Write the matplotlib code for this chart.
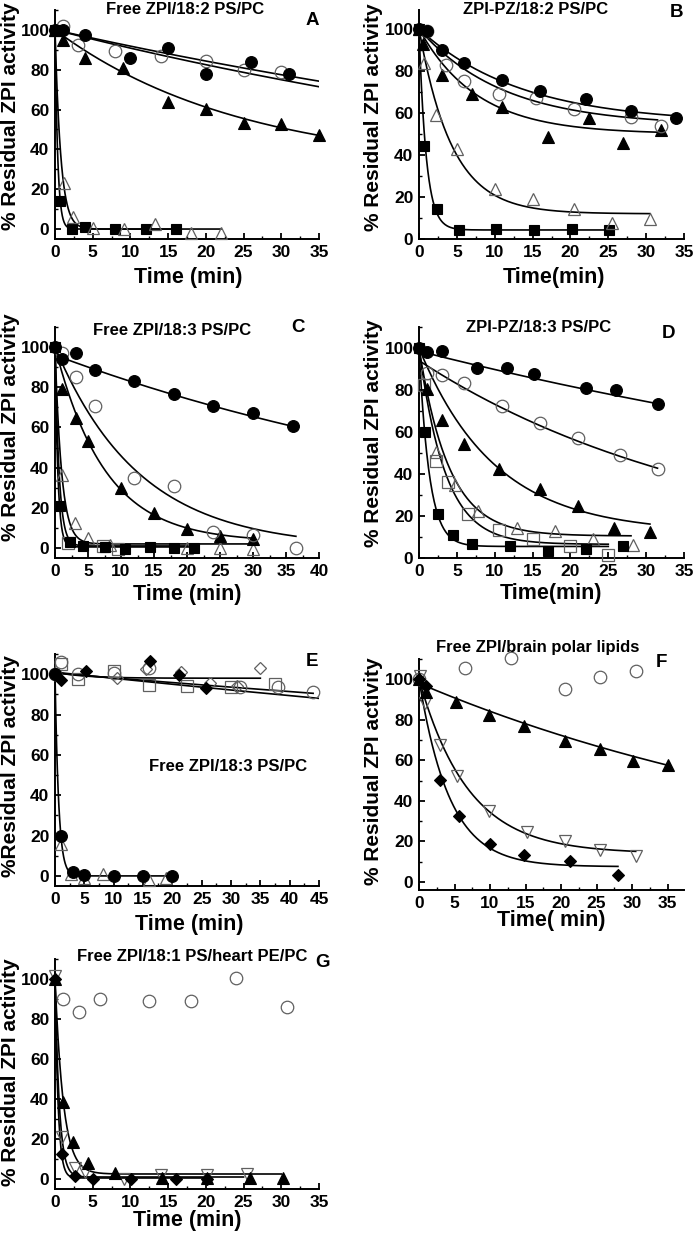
import numpy as np
import matplotlib
matplotlib.use("Agg")
import matplotlib.pyplot as plt
from matplotlib.ticker import MultipleLocator

plt.rcParams['font.family'] = ['Liberation Sans', 'DejaVu Sans']
plt.rcParams['font.weight'] = 'bold'
plt.rcParams['axes.labelweight'] = 'bold'

W, H = 693, 1240

# ---------------- data (time in min, % residual activity) ----------------
# Panel A  Free ZPI/18:2 PS/PC
A_fc_t = [0, 1, 4, 10, 15, 20, 26, 31]
A_fc_y = [100, 100, 97.5, 86, 91, 78, 84, 78]
A_oc_t = [1, 3, 8, 14, 20, 25, 30]
A_oc_y = [102, 92.5, 89.5, 87, 84.5, 80, 79]
A_ft_t = [0, 1, 4, 9, 15, 20, 25, 30, 35]
A_ft_y = [100, 95, 86, 81, 64, 60.5, 53.5, 53, 47]
A_ot_t = [0, 1.2, 2.4, 5, 9.2, 13.2, 18, 22]
A_ot_y = [100, 23, 6, 0.5, 0, 2.5, -2, -2]
A_fs_t = [0, 0.7, 2.3, 4, 8, 12, 16]
A_fs_y = [100, 14, 0, 1.2, 0, 0, 0]

# Panel B  ZPI-PZ/18:2 PS/PC
B_fc_t = [0, 1, 3, 6, 11, 16, 22, 28, 34]
B_fc_y = [100, 99, 90, 84, 75.5, 70.5, 66.5, 61, 57.5]
B_oc_t = [1, 3.5, 6, 10.5, 15.5, 20.5, 28, 32]
B_oc_y = [99, 83, 75, 69, 67, 62, 58, 54]
B_ft_t = [0, 0.5, 3, 7, 11, 17, 22.5, 27, 32]
B_ft_y = [100, 93, 78, 69, 63, 48.5, 57.5, 45.5, 52]
B_ot_t = [0, 0.7, 2.2, 5, 10, 15, 20.5, 25.5, 30.5]
B_ot_y = [100, 84, 59, 43, 24, 19, 14.5, 7.5, 9.5]
B_fs_t = [0, 0.7, 2.4, 5.3, 10.2, 15.2, 20.2, 25.1]
B_fs_y = [100, 44.5, 14.5, 4.3, 4.6, 4.3, 4.6, 4.3]

# Panel C  Free ZPI/18:3 PS/PC
C_fc_t = [0, 1, 3.2, 6, 12, 18, 24, 30, 36]
C_fc_y = [100, 94, 97, 88.5, 83, 76.5, 70.5, 67, 60.5]
C_oc_t = [1, 3.2, 6, 12, 18, 24, 30, 36.5]
C_oc_y = [97, 85, 70.5, 35, 31, 8, 6.5, 0]
C_ft_t = [1, 3.2, 5, 10, 15, 20, 25, 30]
C_ft_y = [79, 64.5, 53, 30, 17.5, 9.5, 6, 4.5]
C_ot_t = [1, 3, 5, 8.3, 20, 25, 30]
C_ot_y = [36.5, 12.5, 5, 1.7, 0, 0, -0.5]
C_os_t = [2, 7.2, 9.6]
C_os_y = [2.5, 1, -0.5]
C_fs_t = [0, 0.7, 2.3, 4.3, 7.5, 10.6, 14.4, 18, 21]
C_fs_y = [100, 20.7, 2.8, 0.8, 0.5, -0.3, 0.5, 0, 0]

# Panel D  ZPI-PZ/18:3 PS/PC
D_fc_t = [0, 1, 3, 7.6, 11.6, 15.2, 22, 26, 31.5]
D_fc_y = [100, 98, 98.5, 90.5, 90.5, 87.5, 81, 80, 73.5]
D_oc_t = [1, 3, 6, 11, 16, 21, 26.5, 31.5]
D_oc_y = [88, 87, 83.5, 72.5, 64.5, 57, 49, 42.5]
D_ft_t = [1, 3, 6, 10.6, 16, 21, 25.7, 30.5]
D_ft_y = [80.5, 65.5, 54.5, 42.5, 33, 25, 14.5, 12.5]
D_ot_t = [2.2, 4.8, 7.8, 13, 18, 23, 28.2]
D_ot_y = [50.5, 35, 22.5, 14.5, 13, 9, 6]
D_os_t = [0.7, 2.2, 3.8, 6.5, 10.5, 15, 20, 25]
D_os_y = [82.5, 46, 36, 21, 13.5, 9, 5.5, 1.5]
D_fs_t = [0, 0.8, 2.5, 4.5, 7, 12, 17, 22, 27]
D_fs_y = [100, 60, 21, 11, 6.5, 5.5, 3.5, 4.5, 5.5]

# Panel E  Free ZPI/18:3 PS/PC
E_oc_t = [0, 1, 4, 10, 16, 31.5, 38, 44]
E_oc_y = [100, 106, 100, 100.5, 103, 93.5, 93.5, 91]
E_os_t = [1, 4, 10, 16, 22.5, 30, 37.5]
E_os_y = [105, 97.5, 101.5, 94.5, 94, 93.5, 95]
E_od_t = [10.5, 15.5, 21.5, 26.5, 31, 35]
E_od_y = [98, 102.5, 101, 95.5, 94, 103]
E_fd_t = [0, 1, 5.3, 16.2, 21.2, 25.8]
E_fd_y = [100, 97, 101.5, 106.5, 99.5, 93]
E_fc_t = [0, 1, 3, 5, 10, 15, 20]
E_fc_y = [100, 20, 2, 0.5, 0, 0, 0]
E_ot_t = [1, 2.8, 5, 8.2, 16, 19]
E_ot_y = [16, 1, -1.2, 1, -2, -1.2]

# Panel F  Free ZPI/brain polar lipids
F_oc_t = [0, 6.5, 13, 20.6, 25.5, 30.5]
F_oc_y = [100, 105.5, 110.5, 95, 101, 104]
F_ft_t = [0, 1, 5.2, 9.8, 14.8, 20.6, 25.5, 30.1, 35.1]
F_ft_y = [100, 93.5, 89, 82.5, 77, 69.5, 65.5, 59.5, 57.5]
F_oit_t = [0.2, 0.9, 3, 5.3, 9.8, 15.2, 20.6, 25.5, 30.5]
F_oit_y = [101.5, 88.5, 67.5, 52.5, 35, 24.5, 20, 15.5, 13]
F_fd_t = [0, 1, 3, 5.6, 10, 14.8, 21.2, 28]
F_fd_y = [100, 96.5, 50.5, 32.5, 18.5, 13.5, 10.5, 3.5]

# Panel G  Free ZPI/18:1 PS/heart PE/PC
G_oc_t = [1, 3.2, 6, 12.4, 18, 24, 30.8]
G_oc_y = [90, 83.5, 90, 89, 89, 100.5, 86]
G_ft_t = [0, 1, 2.4, 4.4, 8, 14.2, 20.1, 25.9, 30.2]
G_ft_y = [100, 38.5, 18.5, 8, 3, 0.5, 0.5, 0.5, 0.5]
G_oit_t = [0, 0.9, 2.6, 4, 9.1, 14.1, 20.1, 25.4]
G_oit_y = [101.5, 21, 5.5, 3.5, 0, 2, 2, 2.5]
G_fd_t = [0, 0.9, 2.6, 5, 10.1, 16.1, 20.1]
G_fd_y = [100, 12.5, 1.5, 0, 0, 0, 0]

# fitted single-exponential curves:
# (start value, plateau, rate constant 1/min, last time)
A_fits = [(100, 0, 0.0085, 35), (100, 0, 0.0096, 35), (100, 30, 0.0404, 35),
          (100, 0, 1.3, 22), (100, 0, 2.8, 16)]
B_fits = [(100, 55, 0.074, 34), (100, 54, 0.09, 31.5), (100, 50, 0.13, 32),
          (100, 12, 0.23, 30.5), (100, 4.3, 1.05, 25)]
C_fits = [(96, 0, 0.0128, 36), (100, 0, 0.078, 36.5), (100, 3, 0.132, 30),
          (100, 2, 1.0, 30), (100, 1, 1.6, 21), (100, 0.5, 2.3, 21)]
D_fits = [(98.5, 0, 0.0093, 31.5), (94, 0, 0.025, 31.5), (100, 12, 0.1, 30.5),
          (100, 10.5, 0.253, 28), (100, 6.5, 0.29, 25), (100, 5.5, 0.74, 25)]
E_fits = [(101, 98, 0.2, 35), (101, 0, 0.00306, 45), (100.5, 0, 0.00238, 44),
          (100, 0, 1.6, 20)]
F_fits = [(98, 0, 0.0152, 35), (100, 14, 0.144, 30.5), (100, 7.5, 0.232, 28)]
G_fits = [(100, 2.5, 0.9, 30), (100, 1, 1.75, 25), (100, 0.5, 2.4, 20)]

# ---------------- styles ----------------
GRAY = '#606060'
STY = {
    'fc': dict(marker='o', ms=8.5, mfc='black', mec='black', mew=0.8),
    'oc': dict(marker='o', ms=9, mfc='none', mec=GRAY, mew=0.9),
    'ft': dict(marker='^', ms=9, mfc='black', mec='black', mew=0.8),
    'ot': dict(marker='^', ms=9, mfc='none', mec=GRAY, mew=0.9),
    'oit': dict(marker='v', ms=9, mfc='none', mec=GRAY, mew=0.9),
    'fs': dict(marker='s', ms=7.8, mfc='black', mec='black', mew=0.8),
    'os': dict(marker='s', ms=8.2, mfc='none', mec=GRAY, mew=0.9),
    'fd': dict(marker='D', ms=6.5, mfc='black', mec='black', mew=0.8),
    'od': dict(marker='D', ms=6.5, mfc='none', mec=GRAY, mew=0.9),
}

fig = plt.figure(figsize=(W / 100, H / 100), dpi=100)


def make_axes(l, t, r, b):
    return fig.add_axes([l / W, 1 - b / H, (r - l) / W, (b - t) / H])


def style_axes(ax, xlim, ylim, xmax_tick):
    ax.set_xlim(*xlim)
    ax.set_ylim(*ylim)
    ax.set_xticks(np.arange(0, xmax_tick + 0.1, 5))
    ax.set_yticks(np.arange(0, 101, 20))
    ax.xaxis.set_minor_locator(MultipleLocator(2.5))
    ax.yaxis.set_minor_locator(MultipleLocator(10))
    for s in ['top', 'right']:
        ax.spines[s].set_visible(False)
    for s in ['left', 'bottom']:
        ax.spines[s].set_linewidth(1.4)
    ax.tick_params(which='major', direction='in', length=4, width=1.3,
                   labelsize=12.5, pad=4)
    ax.tick_params(which='minor', direction='in', length=2.5, width=1.0)
    for lab in ax.get_xticklabels() + ax.get_yticklabels():
        lab.set_fontweight('bold')


def draw(ax, series, fits):
    for (a0, c, k, tend) in fits:
        t = np.linspace(0, tend, 300)
        ax.plot(t, c + (a0 - c) * np.exp(-k * t), color='black', lw=1.2,
                zorder=2)
    for key, tt, yy in series:
        ax.plot(tt, yy, ls='none', zorder=3, clip_on=False, **STY[key])


def labels(ax, xl, xlx, xly, yl, ylx, yly):
    ax.set_xlabel(xl, fontsize=15.5, fontweight='bold', va='center')
    ax.xaxis.set_label_coords(xlx, xly)
    ax.set_ylabel(yl, fontsize=15, fontweight='bold', va='center')
    ax.yaxis.set_label_coords(ylx, yly)


def title(ax, txt, x, y, letter, lx, ly):
    if txt:
        ax.text(x, y, txt, transform=ax.transAxes, ha='center', va='center',
                fontsize=12, fontweight='bold')
    ax.text(lx, ly, letter, transform=ax.transAxes, ha='center', va='center',
            fontsize=13.5, fontweight='bold')


YL = '% Residual ZPI activity'

# A
ax = make_axes(55, 10, 319, 239)
draw(ax, [('fs', A_fs_t, A_fs_y), ('ot', A_ot_t, A_ot_y), ('ft', A_ft_t, A_ft_y),
          ('oc', A_oc_t, A_oc_y), ('fc', A_fc_t, A_fc_y)], A_fits)
style_axes(ax, (0, 35), (-5, 110), 35)
labels(ax, 'Time (min)', 0.504, -0.166, YL, -0.17, 0.537)
title(ax, 'Free ZPI/18:2 PS/PC', 0.492, 1.002, 'A', 0.973, 0.956)

# B
ax = make_axes(419, 10, 684, 239)
draw(ax, [('fs', B_fs_t, B_fs_y), ('ot', B_ot_t, B_ot_y), ('ft', B_ft_t, B_ft_y),
          ('oc', B_oc_t, B_oc_y), ('fc', B_fc_t, B_fc_y)], B_fits)
style_axes(ax, (0, 35), (0, 109), 35)
labels(ax, 'Time(min)', 0.508, -0.166, YL, -0.17, 0.53)
title(ax, 'ZPI-PZ/18:2 PS/PC', 0.44, 1.004, 'B', 0.97, 0.991)

# C
ax = make_axes(55, 327, 319, 558)
draw(ax, [('os', C_os_t, C_os_y), ('ot', C_ot_t, C_ot_y), ('fs', C_fs_t, C_fs_y),
          ('ft', C_ft_t, C_ft_y), ('oc', C_oc_t, C_oc_y), ('fc', C_fc_t, C_fc_y)],
     C_fits)
style_axes(ax, (0, 40), (-5, 110), 40)
labels(ax, 'Time (min)', 0.5, -0.16, YL, -0.17, 0.567)
title(ax, 'Free ZPI/18:3 PS/PC', 0.443, 0.987, 'C', 0.92, 0.996)

# D
ax = make_axes(419, 327, 684, 558)
draw(ax, [('os', D_os_t, D_os_y), ('ot', D_ot_t, D_ot_y), ('fs', D_fs_t, D_fs_y),
          ('ft', D_ft_t, D_ft_y), ('oc', D_oc_t, D_oc_y), ('fc', D_fc_t, D_fc_y)],
     D_fits)
style_axes(ax, (0, 35), (0, 110), 35)
labels(ax, 'Time(min)', 0.5, -0.152, YL, -0.17, 0.54)
title(ax, 'ZPI-PZ/18:3 PS/PC', 0.453, 0.996, 'D', 0.94, 0.974)

# E
ax = make_axes(55, 654, 319, 886)
draw(ax, [('os', E_os_t, E_os_y), ('od', E_od_t, E_od_y), ('oc', E_oc_t, E_oc_y),
          ('fd', E_fd_t, E_fd_y), ('ot', E_ot_t, E_ot_y), ('fc', E_fc_t, E_fc_y)],
     E_fits)
style_axes(ax, (0, 45), (-5, 110), 45)
labels(ax, 'Time (min)', 0.508, -0.168, '%Residual ZPI activity', -0.17, 0.517)
title(ax, 'Free ZPI/18:3 PS/PC', 0.655, 0.513, 'E', 0.973, 0.966)

# F
ax = make_axes(419, 659, 684, 890)
draw(ax, [('oc', F_oc_t, F_oc_y), ('oit', F_oit_t, F_oit_y),
          ('ft', F_ft_t, F_ft_y), ('fd', F_fd_t, F_fd_y)], F_fits)
style_axes(ax, (0, 37.3), (-4, 110), 35)
labels(ax, 'Time( min)', 0.5, -0.13, YL, -0.17, 0.515)
title(ax, 'Free ZPI/brain polar lipids', 0.449, 1.048, 'F', 0.913, 0.987)

# G
ax = make_axes(55, 959, 319, 1189)
draw(ax, [('oc', G_oc_t, G_oc_y), ('oit', G_oit_t, G_oit_y),
          ('ft', G_ft_t, G_ft_y), ('fd', G_fd_t, G_fd_y)], G_fits)
style_axes(ax, (0, 35), (-5, 110), 35)
labels(ax, 'Time (min)', 0.5, -0.135, YL, -0.17, 0.51)
title(ax, 'Free ZPI/18:1 PS/heart PE/PC', 0.519, 1.009, 'G', 1.015, 0.983)

fig.savefig('out.png', dpi=100)
